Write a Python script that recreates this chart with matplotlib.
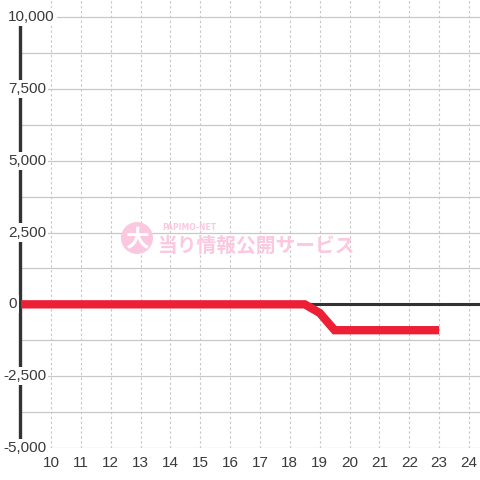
import matplotlib
matplotlib.use('Agg')
import matplotlib.pyplot as plt
from matplotlib.patches import Circle

plt.rcParams['font.family'] = ['Liberation Sans', 'DejaVu Sans']

# data
hours = [9.0, 18.5, 19.0, 19.5, 23.0]
values = [0, 0, -300, -900, -900]
x_ticks = list(range(10, 25))
y_major = [10000, 7500, 5000, 2500, 0, -2500, -5000]
y_labels = ["10,000", "7,500", "5,000", "2,500", "0", "-2,500", "-5,000"]
y_grid = [10000, 8750, 7500, 6250, 5000, 3750, 2500, 1250, 0,
          -1250, -2500, -3750, -5000]

W = 480.0
fig = plt.figure(figsize=(4.8, 4.8), dpi=100)
fig.patch.set_facecolor('white')
# axes from x=20px to 480px, y=0px to 448px
ax = fig.add_axes([20 / W, 32 / W, 460 / W, 448 / W])
ax.set_xlim(8.96, 24.37)
ax.set_ylim(-5000, 10592)

for s in ['top', 'right', 'bottom']:
    ax.spines[s].set_visible(False)
ax.spines['left'].set_color('#333333')
ax.spines['left'].set_linewidth(2.4)
ax.spines['left'].set_bounds(-5000, 10000)
ax.spines['left'].set_zorder(3)

ax.set_xticks(x_ticks)
ax.set_yticks(y_grid)
ax.set_yticklabels([])
ax.tick_params(axis='both', length=0)
ax.tick_params(axis='x', pad=5.5, labelsize=11, labelcolor='#3a3a3a')
ax.grid(axis='x', color='#c8c8c8', linestyle=(0, (2.2, 2.2)), linewidth=0.8)
ax.grid(axis='y', color='#c8c8c8', linestyle='-', linewidth=0.9)
ax.set_axisbelow(True)

# watermark
ax.add_patch(Circle((137 / W, (480 - 238) / W), 16 / W, transform=fig.transFigure,
                    facecolor='#fbc8e0', edgecolor='none', zorder=1))
fig.text(137 / W, (480 - 240) / W, "大", family=['Noto Sans CJK JP'], weight='bold',
         fontsize=17, color='white', ha='center', va='center', zorder=2)
fig.text(162 / W, (480 - 227) / W, "PAPIMO-NET", family=['DejaVu Sans'], weight='bold',
         fontsize=5.5, color='#fbc8e0', ha='left', va='center')
fig.text(158 / W, (480 - 246) / W, "当り情報公開サービス", family=['Noto Sans CJK JP'],
         weight='bold', fontsize=14.2, color='#fbc8e0', ha='left', va='center')

ax.axhline(0, color='#333333', linewidth=2.2, zorder=2)
ax.plot(hours, values, color='#ec1f34', linewidth=6, solid_capstyle='butt',
        solid_joinstyle='miter', zorder=4)

ytr = ax.get_yaxis_transform()
for v, lab in zip(y_major, y_labels):
    x0 = -12 / 460 if not lab.startswith('-') else -17 / 460
    ax.text(x0, v, lab, transform=ytr, ha='left', va='center', fontsize=11,
            color='#3a3a3a', zorder=6, clip_on=False,
            bbox=dict(facecolor='white', edgecolor='none', pad=1.5))

fig.savefig('out.png', dpi=100)
plt.close(fig)
